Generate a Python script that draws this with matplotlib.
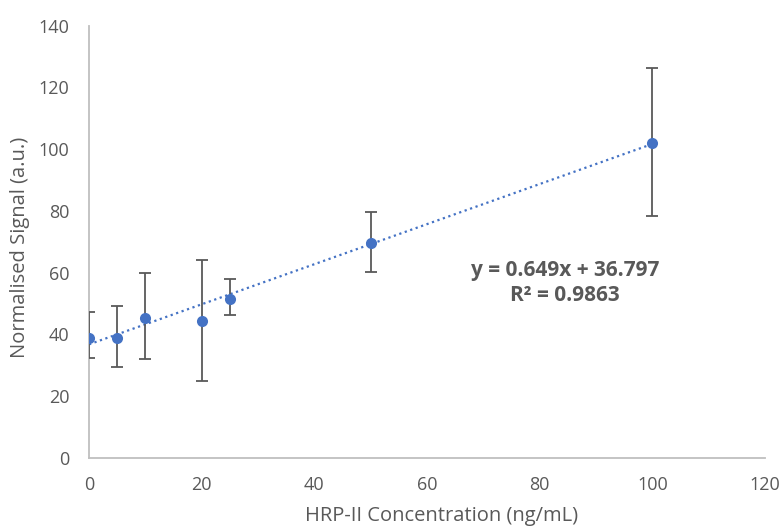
import matplotlib
matplotlib.use("Agg")
import matplotlib.pyplot as plt
import numpy as np

# HRP-II calibration data
concentration = [0, 5, 10, 20, 25, 50, 100]
signal = [39.0, 38.8, 45.2, 44.4, 51.6, 69.5, 101.9]
err_low = [6.7, 9.3, 13.2, 19.4, 5.4, 9.3, 23.4]
err_high = [8.4, 10.5, 14.6, 19.7, 6.3, 10.1, 24.5]

# Linear trendline coefficients
slope = 0.649
intercept = 36.797
r_squared = 0.9863

x_ticks = [0, 20, 40, 60, 80, 100, 120]
y_ticks = [0, 20, 40, 60, 80, 100, 120, 140]

FONT = "Open Sans"
TEXT_GREY = "#595959"
BLUE = "#4472C4"

fig = plt.figure(figsize=(7.84, 5.27), dpi=100)
ax = fig.add_axes([89 / 784, 1 - 458 / 527, (765 - 89) / 784, (458 - 25.7) / 527])

# trendline
x_fit = np.array([min(concentration), max(concentration)])
ax.plot(x_fit, slope * x_fit + intercept, linestyle=(0, (1, 1.6)),
        color=BLUE, linewidth=1.6, zorder=2)

# error bars and points
ax.errorbar(concentration, signal, yerr=[err_low, err_high], fmt="none",
            ecolor="#595959", elinewidth=1.3, capsize=4, capthick=1.3, zorder=3)
ax.plot(concentration, signal, "o", color=BLUE, markersize=8,
        markeredgewidth=0, zorder=4)

ax.set_xlim(0, 120)
ax.set_ylim(0, 140)
ax.set_xticks(x_ticks)
ax.set_yticks(y_ticks)
ax.tick_params(length=0, labelsize=13, labelcolor=TEXT_GREY)
ax.tick_params(axis="x", pad=13)
ax.tick_params(axis="y", pad=14)
for lbl in ax.get_xticklabels() + ax.get_yticklabels():
    lbl.set_fontfamily(FONT)

for side in ("top", "right"):
    ax.spines[side].set_visible(False)
for side in ("left", "bottom"):
    ax.spines[side].set_color("#BFBFBF")
    ax.spines[side].set_linewidth(1.3)

# axis titles
fig.text(442 / 784, 1 - 516 / 527, "HRP-II Concentration (ng/mL)", fontsize=14.5,
         color=TEXT_GREY, family=FONT, ha="center", va="center")
fig.text(20 / 784, 1 - 247 / 527, "Normalised Signal (a.u.)", fontsize=14.5,
         color=TEXT_GREY, family=FONT, ha="center", va="center", rotation=90)

ax.text(84.5, 56.7, f"y = {slope}x + {intercept}\nR² = {r_squared}",
        ha="center", va="center", fontsize=15, fontweight="bold",
        color=TEXT_GREY, family=FONT, linespacing=1.25)

fig.savefig("out.png", dpi=100)
